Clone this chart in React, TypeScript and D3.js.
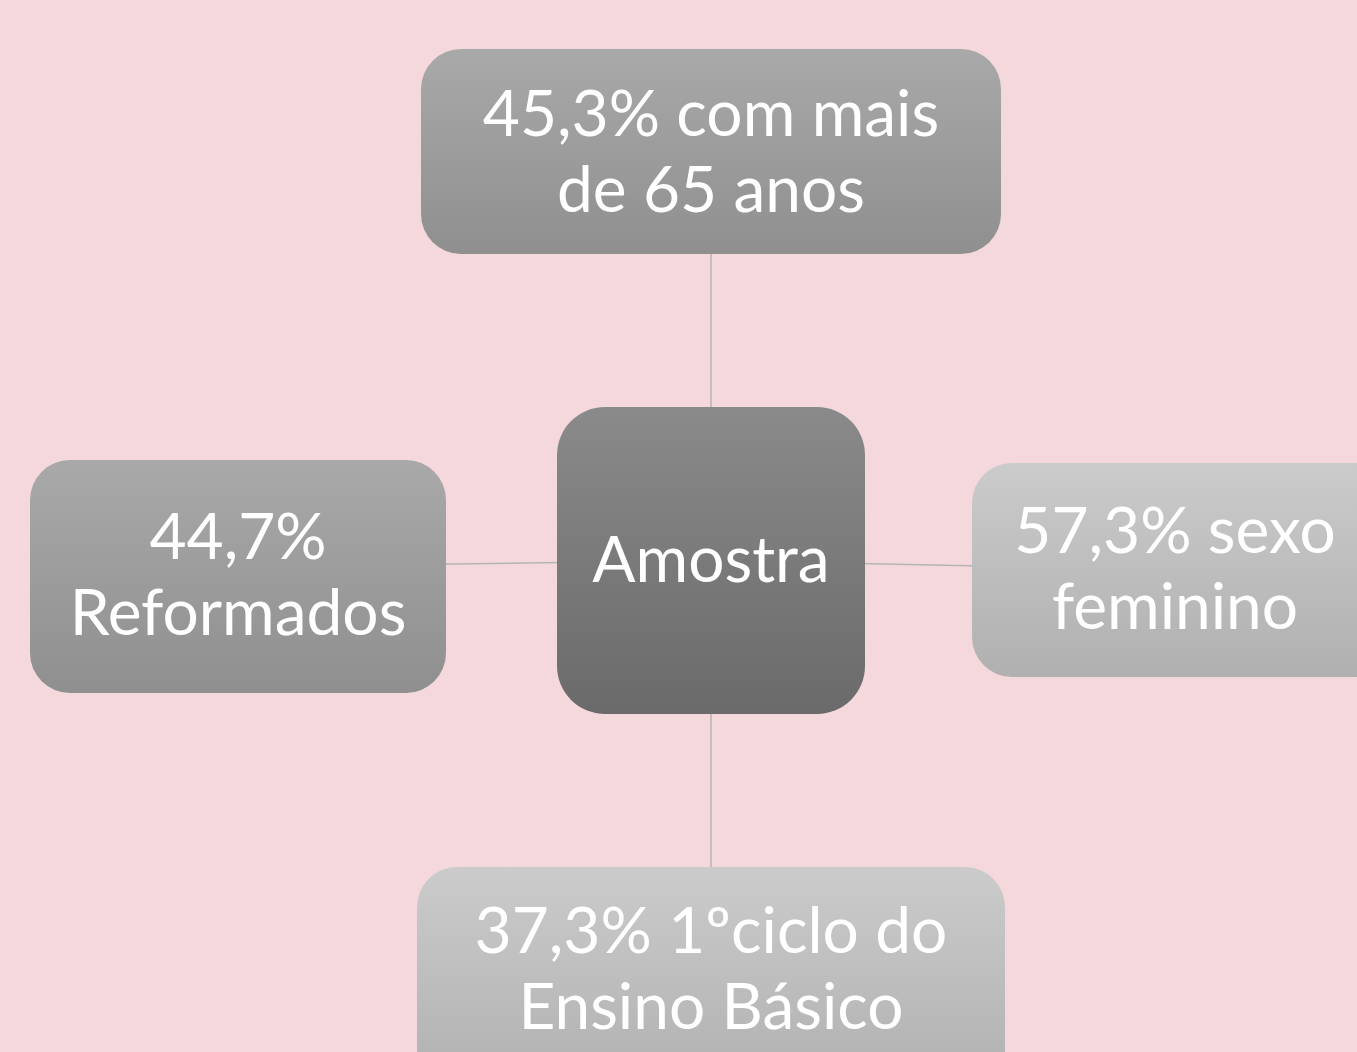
import React, { useRef, useEffect } from 'react';
import * as d3 from 'd3';

const WIDTH = 1357;
const HEIGHT = 1052;

// nodes of the diagram
const NODE_IDS = ['centro', 'idade', 'sexo', 'escolaridade', 'situacao'];
const NODE_LINES = [
  ['Amostra'],
  ['45,3% com mais', 'de 65 anos'],
  ['57,3% sexo', 'feminino'],
  ['37,3% 1ºciclo do', 'Ensino Básico'],
  ['44,7%', 'Reformados'],
];
const LINKS = [
  ['centro', 'idade'],
  ['centro', 'sexo'],
  ['centro', 'escolaridade'],
  ['centro', 'situacao'],
];

// layout (box extents in px)
const BOXES = {
  centro: { x0: 557, x1: 865, y0: 407, y1: 714, r: 48, shade: 'dark', tx: 711, ty: 561 },
  idade: { x0: 421, x1: 1001, y0: 49, y1: 254, r: 40, shade: 'mid', tx: 711, ty: 153 },
  sexo: { x0: 972, x1: 1397, y0: 463, y1: 677, r: 40, shade: 'light', tx: 1175, ty: 570 },
  escolaridade: { x0: 417, x1: 1005, y0: 867, y1: 1092, r: 40, shade: 'light', tx: 711, ty: 970 },
  situacao: { x0: 30, x1: 446, y0: 460, y1: 693, r: 40, shade: 'mid', tx: 238, ty: 576 },
};
const SHADES = {
  dark: ['#8a8a8a', '#6a6a6a'],
  mid: ['#a9a9a9', '#8f8f8f'],
  light: ['#cbcbcb', '#b0b0b0'],
};

export default function App() {
  const svgRef = useRef(null);

  useEffect(() => {
    document.body.style.margin = '0';
    const svg = d3.select(svgRef.current);
    svg.selectAll('*').remove();
    svg.attr('width', WIDTH).attr('height', HEIGHT);

    svg.append('rect').attr('width', WIDTH).attr('height', HEIGHT).attr('fill', '#f4d8dc');

    const defs = svg.append('defs');
    Object.entries(SHADES).forEach(([k, [c0, c1]]) => {
      const g = defs.append('linearGradient').attr('id', 'g-' + k)
        .attr('x1', 0).attr('y1', 0).attr('x2', 0).attr('y2', 1);
      g.append('stop').attr('offset', '0%').attr('stop-color', c0);
      g.append('stop').attr('offset', '100%').attr('stop-color', c1);
    });

    const center = (id) => {
      const b = BOXES[id];
      return [(b.x0 + b.x1) / 2, (b.y0 + b.y1) / 2];
    };

    // connectors
    const line = d3.line();
    svg.append('g').selectAll('path')
      .data(LINKS)
      .enter()
      .append('path')
      .attr('d', ([a, b]) => {
        const bb = BOXES[b];
        const [ax, ay] = center(a);
        const by = Math.min((bb.y0 + bb.y1) / 2, bb.y0 + 107);
        const bx = b === 'idade' || b === 'escolaridade' ? ax : (bb.x0 + bb.x1) / 2;
        return line([[ax, ay], [bx, by]]);
      })
      .attr('stroke', '#b4b4b4')
      .attr('stroke-width', 1.5)
      .attr('fill', 'none');

    const nodes = svg.append('g').selectAll('g')
      .data(NODE_IDS.map((id, i) => ({ id, lines: NODE_LINES[i], box: BOXES[id] })))
      .enter()
      .append('g');

    nodes.append('rect')
      .attr('x', d => d.box.x0)
      .attr('y', d => d.box.y0)
      .attr('width', d => d.box.x1 - d.box.x0)
      .attr('height', d => d.box.y1 - d.box.y0)
      .attr('rx', d => d.box.r)
      .attr('fill', d => `url(#g-${d.box.shade})`);

    const lineH = 76;
    nodes.each(function (d) {
      const n = d.lines.length;
      const t = d3.select(this).append('text')
        .attr('fill', '#ffffff')
        .attr('font-family', 'Lato, "Open Sans", sans-serif')
        .attr('font-size', 64)
        .attr('text-anchor', 'middle');
      d.lines.forEach((s, i) => {
        t.append('tspan')
          .attr('x', d.box.tx)
          .attr('y', d.box.ty + (i - (n - 1) / 2) * lineH + 21)
          .text(s);
      });
    });
  }, []);

  return (
    <div style={{ width: WIDTH, height: HEIGHT }}>
      <svg ref={svgRef} />
    </div>
  );
}
